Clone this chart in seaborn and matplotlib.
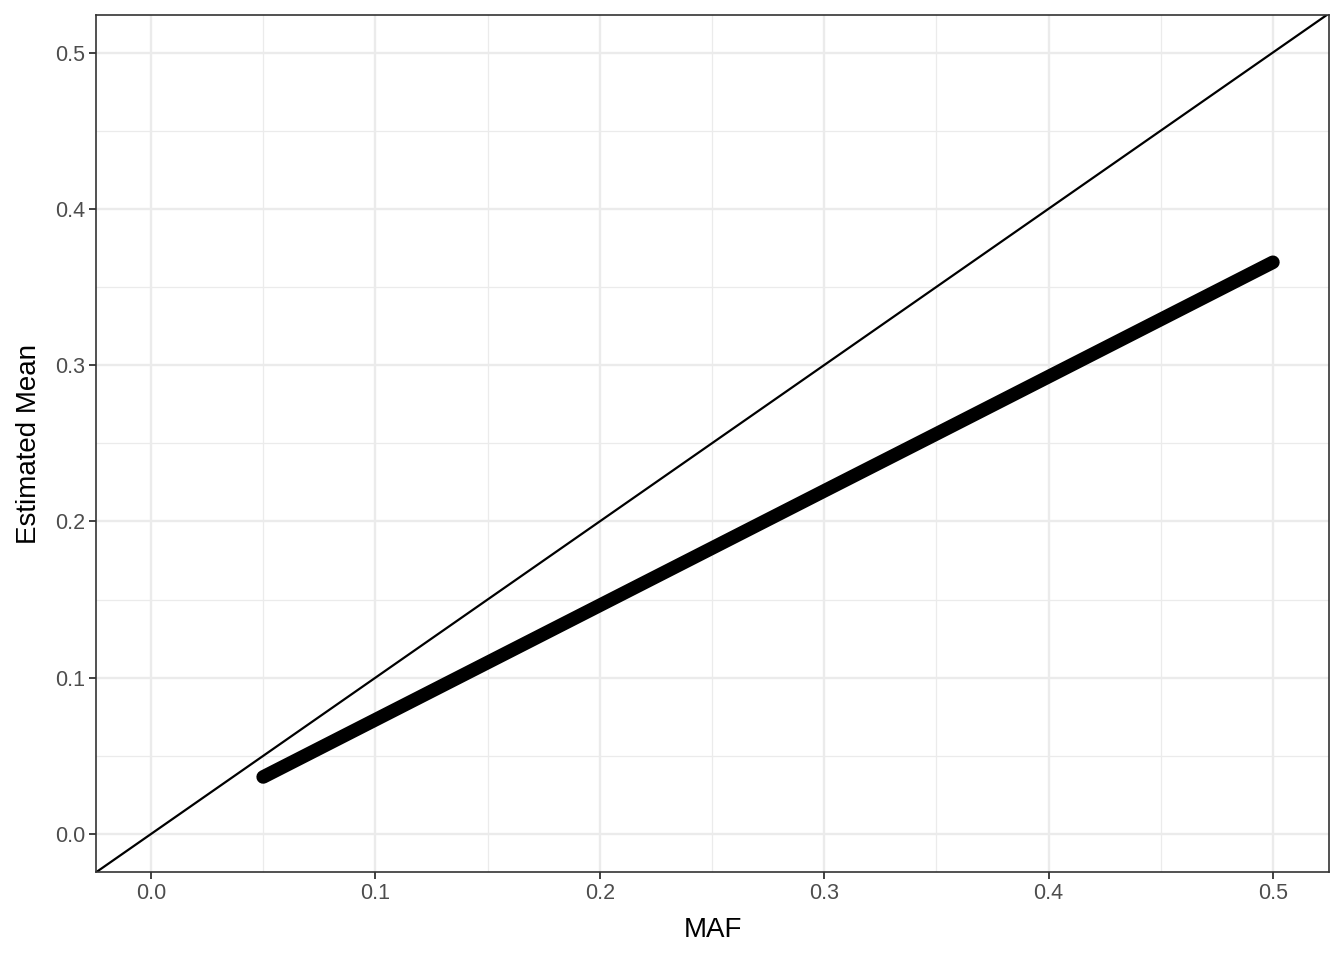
import numpy as np
import pandas as pd
import matplotlib
matplotlib.use("Agg")
import matplotlib.pyplot as plt
import seaborn as sns

# values
maf = [0.05, 0.10, 0.15, 0.20, 0.25, 0.30, 0.35, 0.40, 0.45, 0.50]
est_mean = [0.0365, 0.0731, 0.1097, 0.1463, 0.1829, 0.2195, 0.2560, 0.2926, 0.3292, 0.3658]
x_ticks = [0.0, 0.1, 0.2, 0.3, 0.4, 0.5]
y_ticks = [0.0, 0.1, 0.2, 0.3, 0.4, 0.5]

df = pd.DataFrame({"MAF": maf, "Estimated Mean": est_mean})

sns.set_theme(style="white")
plt.rcParams["font.family"] = ["Liberation Sans", "DejaVu Sans"]

fig = plt.figure(figsize=(13.44, 9.6), dpi=100)
ax = fig.add_axes([96 / 1344, 1 - 872 / 960, (1329 - 96) / 1344, (872 - 15) / 960])

# grid like theme_bw
for v in np.arange(0.05, 0.55, 0.1):
    ax.axvline(v, color="#EBEBEB", lw=0.9, zorder=0)
    ax.axhline(v, color="#EBEBEB", lw=0.9, zorder=0)
for v in x_ticks:
    ax.axvline(v, color="#EBEBEB", lw=1.7, zorder=0)
for v in y_ticks:
    ax.axhline(v, color="#EBEBEB", lw=1.7, zorder=0)

ax.axline((0, 0), slope=1, color="black", lw=1.6, zorder=2)
sns.lineplot(data=df, x="MAF", y="Estimated Mean", ax=ax, color="black",
             lw=9.8, solid_capstyle="round", zorder=3)

ax.set_xlim(-0.0245, 0.525)
ax.set_ylim(-0.0243, 0.524)
ax.set_xticks(x_ticks)
ax.set_yticks(y_ticks)
ax.set_xticklabels([f"{t:.1f}" for t in x_ticks])
ax.set_yticklabels([f"{t:.1f}" for t in y_ticks])
ax.tick_params(axis="both", length=5, width=1.3, color="#333333",
               labelcolor="#4D4D4D", labelsize=15.5, pad=3, bottom=True, left=True)
for s in ax.spines.values():
    s.set_color("#333333")
    s.set_linewidth(1.2)
ax.set_xlabel("MAF", fontsize=20, color="black", labelpad=9)
ax.set_ylabel("Estimated Mean", fontsize=20, color="black", labelpad=9)

fig.savefig("out.png", dpi=100)
